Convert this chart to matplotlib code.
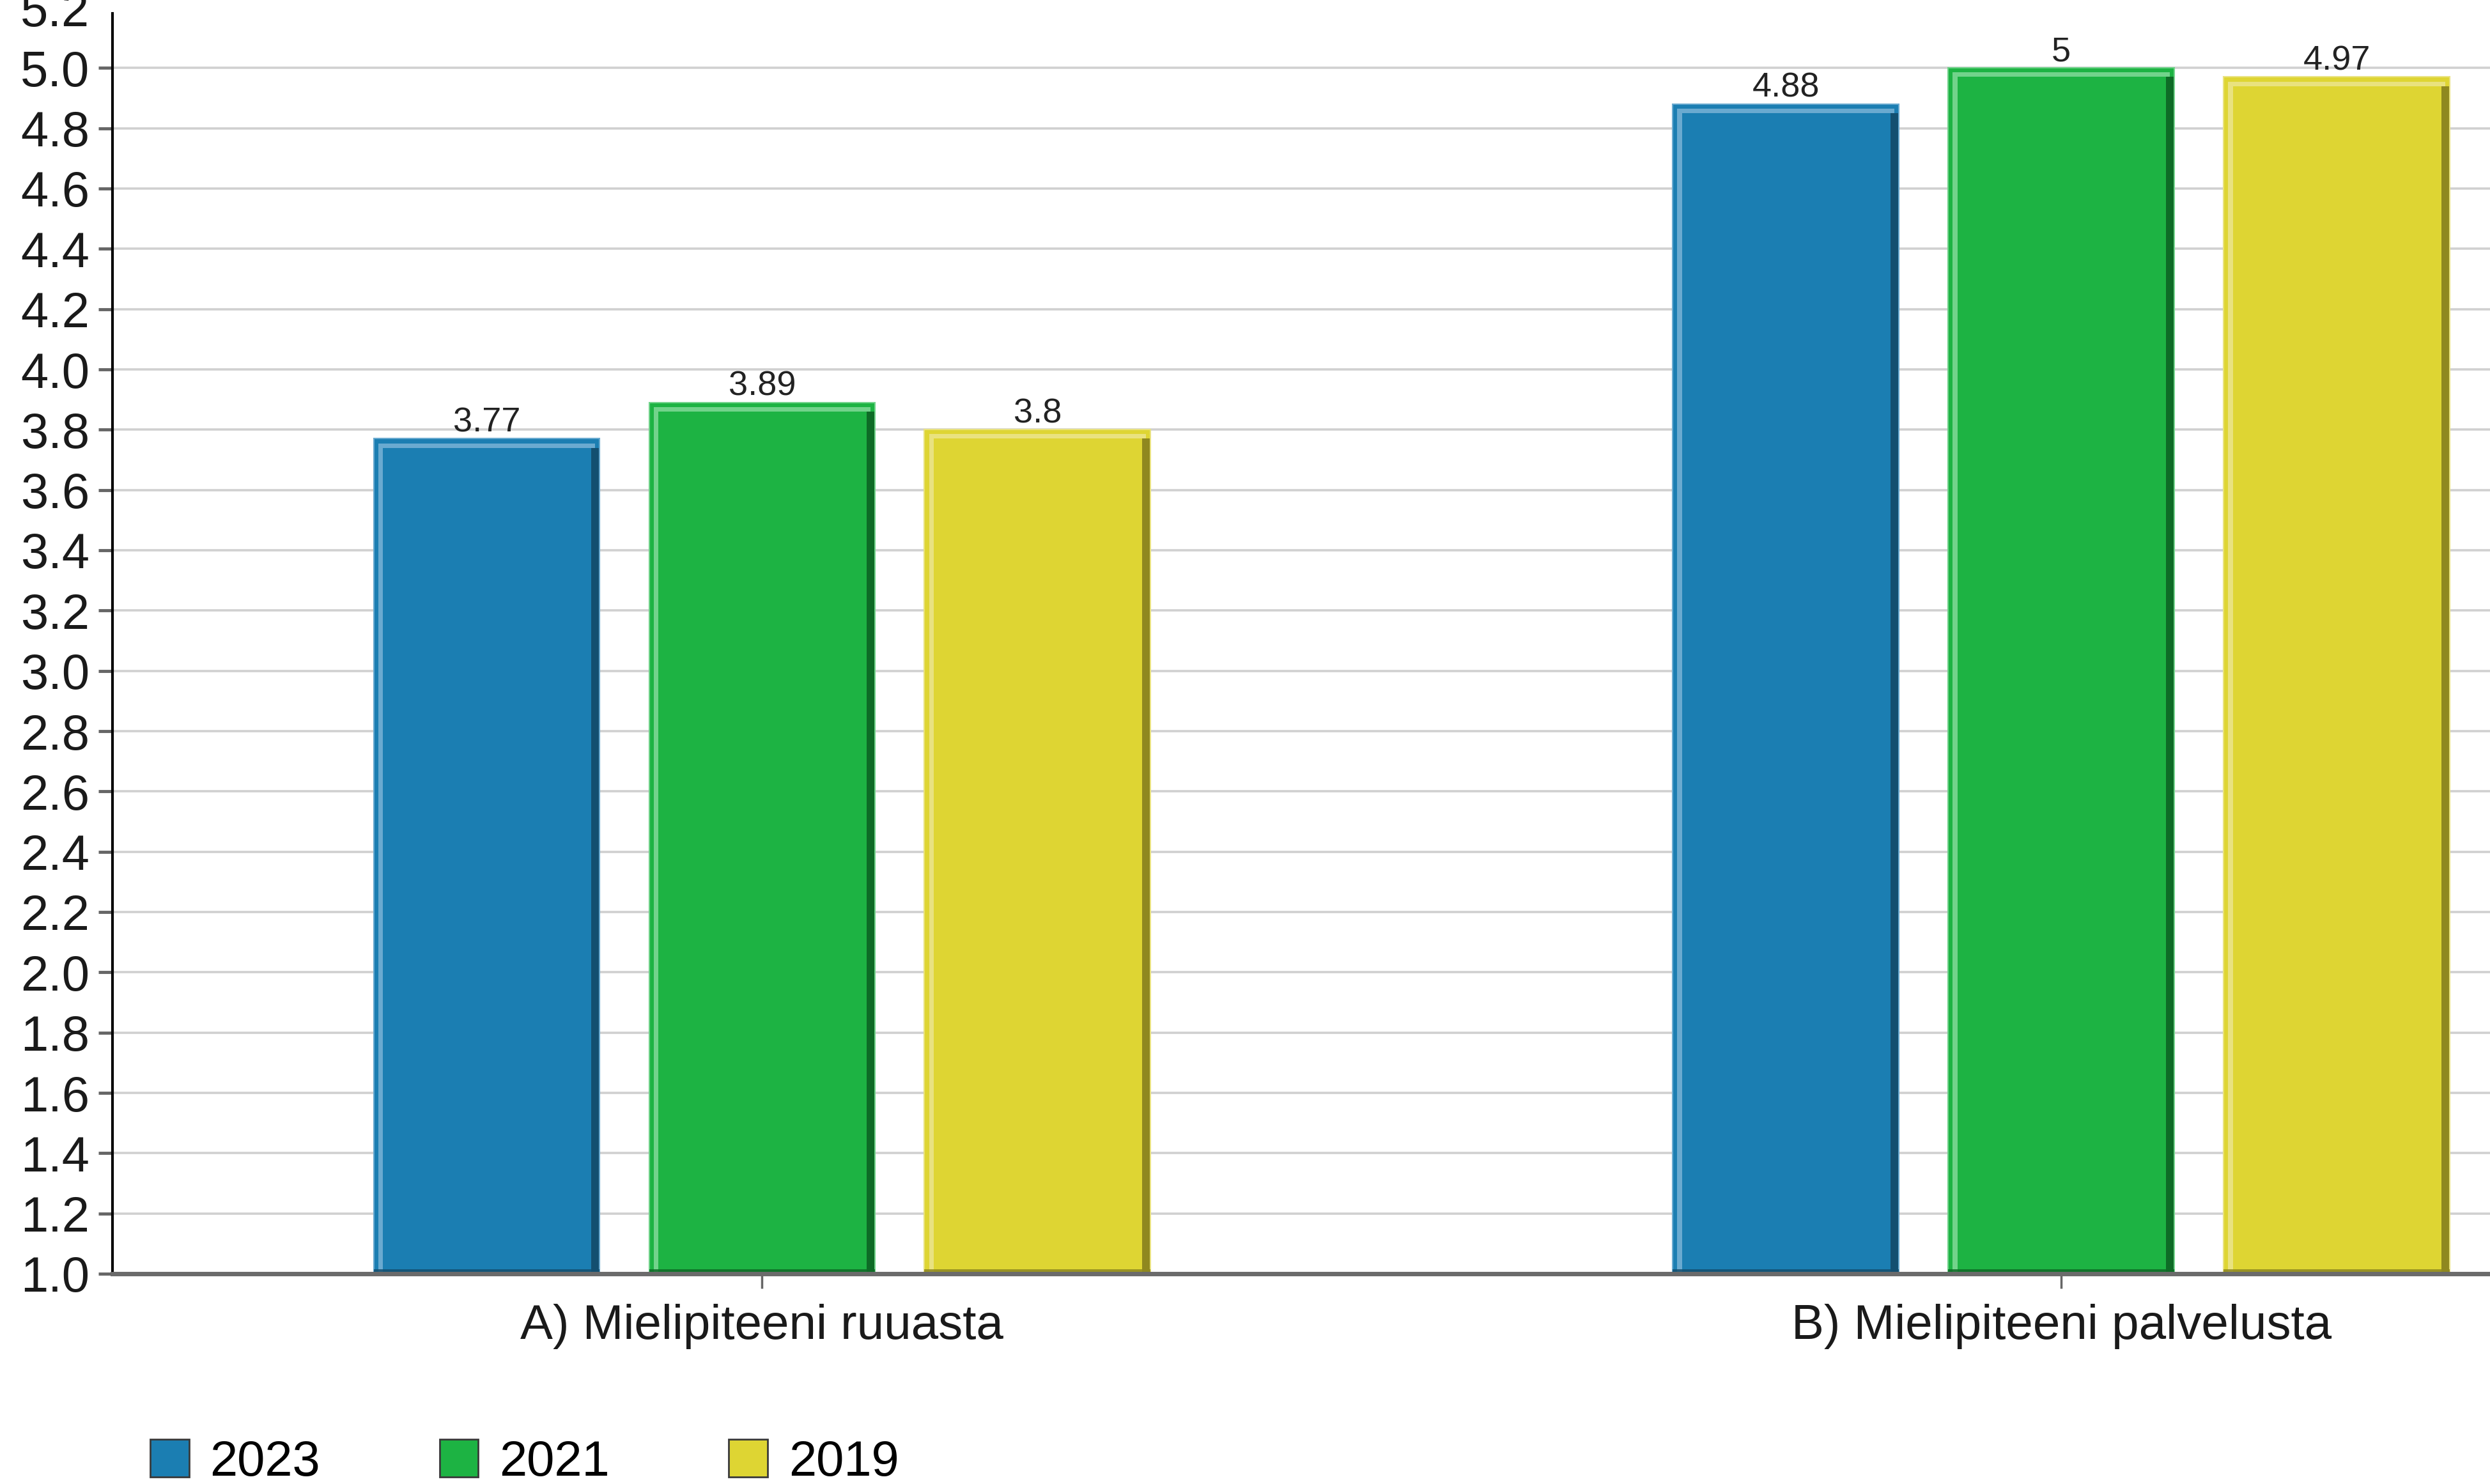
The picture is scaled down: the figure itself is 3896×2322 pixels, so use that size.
import matplotlib
matplotlib.use("Agg")
import matplotlib.pyplot as plt
from matplotlib.patches import Patch
import numpy as np

# data
categories = ["A) Mielipiteeni ruuasta", "B) Mielipiteeni palvelusta"]
years = ["2023", "2021", "2019"]
values_2023 = [3.77, 4.88]
values_2021 = [3.89, 5.0]
values_2019 = [3.8, 4.97]
y_ticks = [1.0, 1.2, 1.4, 1.6, 1.8, 2.0, 2.2, 2.4, 2.6, 2.8, 3.0,
           3.2, 3.4, 3.6, 3.8, 4.0, 4.2, 4.4, 4.6, 4.8, 5.0, 5.2]

series = [values_2023, values_2021, values_2019]
fill_colors = ["#1b7eb2", "#1db343", "#ded533"]
light_colors = ["#6aaad0", "#72d38b", "#e9e27f"]
dark_colors = ["#134f70", "#0e6b26", "#8f881f"]

plt.rcParams["font.family"] = ["Liberation Sans", "DejaVu Sans"]

fig = plt.figure(figsize=(38.96, 23.22), dpi=100)
ax = fig.add_axes([176 / 3896, 1 - 1993 / 2322, 1 - 176 / 3896, 1981 / 2322])

x = np.arange(len(categories))
step = 0.212
width = 0.174
base = 1.0
dw = 0.0035   # bevel strip width in x units
dh = 0.015    # bevel strip height in y units

for i, vals in enumerate(series):
    xs = x + (i - 1) * step
    vals = np.array(vals)
    bars = ax.bar(xs, vals - base, width=width, bottom=base, color=fill_colors[i],
                  edgecolor=light_colors[i], linewidth=1.5, zorder=3)
    # light top and left, dark right and bottom, like the original bevel
    ax.bar(xs, dh, width=width - 2 * dw, bottom=vals - 2 * dh, color=light_colors[i],
           linewidth=0, zorder=4)
    ax.bar(xs - width / 2 + 1.5 * dw, vals - base - 2 * dh, width=dw, bottom=base,
           color=light_colors[i], linewidth=0, zorder=4)
    ax.bar(xs + width / 2 - dw, vals - base - 2 * dh, width=1.6 * dw, bottom=base,
           color=dark_colors[i], linewidth=0, zorder=4)
    ax.bar(xs, dh, width=width, bottom=base, color=dark_colors[i], alpha=0.85,
           linewidth=0, zorder=4)
    ax.bar_label(bars, labels=[f"{v:g}" for v in vals], padding=0, fontsize=39,
                 color="#222222", zorder=5)

ax.set_xlim(-0.5, 1.33)
ax.set_ylim(1.0, 5.2)
ax.set_yticks(y_ticks)
ax.set_yticklabels([f"{t:.1f}" for t in y_ticks])
ax.set_xticks(x)
ax.set_xticklabels(categories)

ax.yaxis.grid(True, color="#d0d0d0", linewidth=2.6, zorder=0)
ax.set_axisbelow(True)

ax.tick_params(axis="y", labelsize=56, length=16, width=3.5, color="#666666",
               pad=10, labelcolor="#1a1a1a")
ax.tick_params(axis="x", labelsize=55, length=16.5, width=2.5, color="#666666",
               pad=17, labelcolor="#1a1a1a")

# top tick (5.2) only shows its label, the axis itself stops just below
top_tick = ax.yaxis.get_major_ticks()[-1]
top_tick.tick1line.set_visible(False)
top_tick.gridline.set_visible(False)

for side in ["top", "right"]:
    ax.spines[side].set_visible(False)
ax.spines["left"].set_color("black")
ax.spines["left"].set_linewidth(3)
ax.spines["left"].set_bounds(1.0, 5.18)
ax.spines["left"].set_zorder(6)
ax.spines["bottom"].set_color("#6b6b6b")
ax.spines["bottom"].set_linewidth(5)
ax.spines["bottom"].set_zorder(6)

handles = [Patch(facecolor=fill_colors[i], edgecolor="#3a3a3a", linewidth=2)
           for i in range(len(years))]
fig.legend(handles, years, loc="center left",
           bbox_to_anchor=(235 / 3896, 1 - 2288 / 2322), ncol=3, frameon=False,
           fontsize=56, handlelength=0.78, handleheight=0.78, handletextpad=0.42,
           columnspacing=2.4, borderpad=0, borderaxespad=0)

fig.savefig("out.png", dpi=100)
